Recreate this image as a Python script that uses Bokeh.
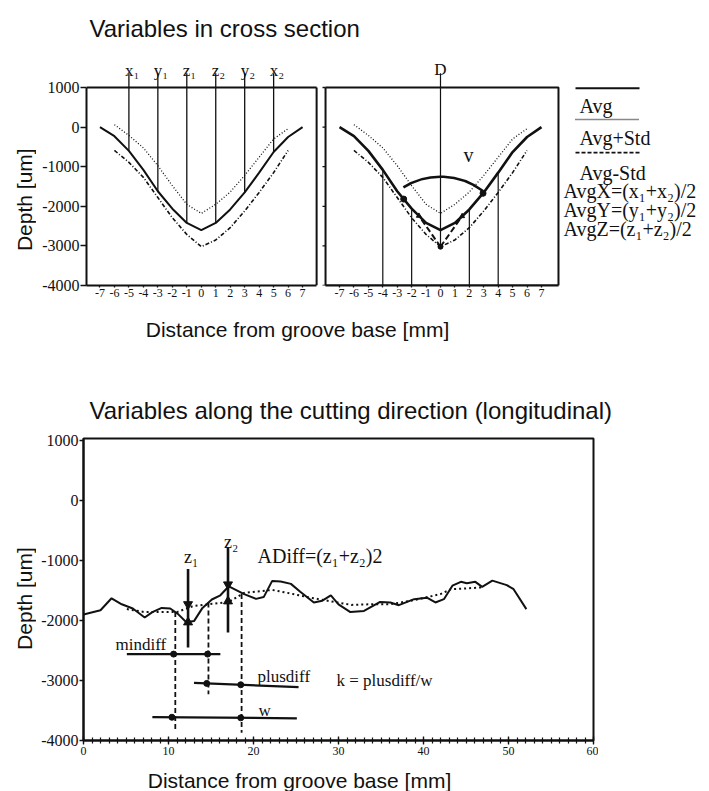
import numpy as np
from bokeh.plotting import figure
from bokeh.models import Range1d, FixedTicker
from bokeh.layouts import column, row
from bokeh.embed import file_html
from bokeh.resources import INLINE
from bokeh.core.properties import value

SERIF = "Liberation Serif"
SANS = "Liberation Sans"
INK = "#111111"

# ---------------- data: cross section (top panels) ----------------
cs_x = [-7, -6, -5, -4, -3, -2, -1, 0, 1, 2, 3, 4, 5, 6, 7]
cs_avg = [0, -230, -600, -1080, -1620, -2060, -2420, -2600, -2420, -2080, -1650, -1150, -630, -250, 0]
cs_x_std = [-6, -5, -4, -3, -2, -1, 0, 1, 2, 3, 4, 5, 6]
cs_avg_plus = [60, -210, -525, -975, -1480, -1950, -2180, -1950, -1640, -1220, -760, -300, -40]
cs_avg_minus = [-590, -890, -1270, -1780, -2290, -2710, -3020, -2850, -2540, -2120, -1650, -1150, -590]
cs_xticks = [-7, -6, -5, -4, -3, -2, -1, 0, 1, 2, 3, 4, 5, 6, 7]
depth_ticks = [-4000, -3000, -2000, -1000, 0, 1000]

# variables marked in the left panel
var_pos = [-5, -3, -1, 1, 3, 5]
var_names = ["x\u2081", "y\u2081", "z\u2081", "z\u2082", "y\u2082", "x\u2082"]
# variables marked in the right panel
v_lines = [-4, -2, 2, 4]
tangent_x = [-1.5, 1.5]
arc_end_x = [-2.55, 2.95]

# ---------------- data: longitudinal profile (bottom panel) ----------------
lg_x = [0, 2.0, 3.3, 4.5, 5.8, 7.2, 8.1, 9.2, 10.2, 11.1, 12.1, 13.0, 14.0, 15.1, 16.1, 17.1, 18.9, 20.3,
        21.2, 22.2, 23.2, 24.4, 25.5, 27.1, 28.1, 29.1, 30.0, 31.4, 33.0, 34.9, 36.1, 37.1, 38.9, 40.4,
        41.4, 42.4, 43.4, 44.4, 45.1, 46.1, 46.9, 48.1, 49.8, 50.6, 52.1]
lg_y = [-1900, -1830, -1630, -1730, -1800, -1950, -1860, -1790, -1800, -1890, -2030, -2010, -1790, -1650,
        -1580, -1430, -1560, -1640, -1610, -1340, -1350, -1390, -1520, -1700, -1670, -1580, -1730, -1860,
        -1840, -1690, -1700, -1745, -1645, -1620, -1700, -1645, -1420, -1355, -1378, -1356, -1440, -1335,
        -1410, -1478, -1810]
sm_x = [5.1, 7.2, 11.0, 12.9, 14.7, 17.1, 18.9, 22.2, 24.0, 26.7, 29.5, 31.5, 33.8, 36.1, 38.9, 42.0, 43.2, 46.8]
sm_y = [-1810, -1860, -1860, -1760, -1730, -1690, -1540, -1490, -1540, -1620, -1690, -1740, -1730, -1730,
        -1660, -1560, -1480, -1450]
lg_xticks = [0, 10, 20, 30, 40, 50, 60]
lg_minor = list(range(0, 61))

z_x = [12.3, 17.0]
z_top = [-1140, -780]
z_bot = [-2450, -2200]
z_mark_hi = [-1730, -1400]
z_mark_lo = [-2030, -1680]
drop_x = [10.8, 14.7, 18.6]
drop_top = [-1860, -1700, -1560]
drop_bot = [-3830, -3230, -3870]
bar_names = ["mindiff", "plusdiff", "w"]
bar_x0 = [5.1, 13.0, 8.1]
bar_x1 = [16.1, 25.3, 25.1]
bar_y0 = [-2560, -3040, -3610]
bar_y1 = [-2560, -3110, -3630]
bar_marks = [[10.6, 14.6], [14.5, 18.5], [10.4, 18.5]]


def txt(f, x, y, s, size, font=SERIF, align="left", baseline="alphabetic", angle=0.0, x_offset=0):
    f.text(x=[x], y=[y], text=[s], text_font=value(font), text_font_size=value(f"{size}px"),
           text_align=align, text_baseline=baseline, angle=angle, text_color=INK, x_offset=x_offset)


def blank(w, h):
    f = figure(width=w, height=h, x_range=Range1d(0, w), y_range=Range1d(h, 0),
               output_backend="svg", toolbar_location=None, x_axis_location=None, y_axis_location=None,
               min_border_left=0, min_border_right=0, min_border_top=0, min_border_bottom=0)
    f.outline_line_color = None
    f.grid.visible = False
    f.background_fill_color = "white"
    f.border_fill_color = "white"
    return f


def tick_text(ticks):
    return {t: str(t) for t in ticks}


def style_x(p, xticks, xfont):
    p.outline_line_color = None
    p.grid.visible = False
    xa = p.xaxis[0]
    xa.ticker = FixedTicker(ticks=xticks)
    xa.major_label_overrides = tick_text(xticks)
    xa.axis_line_width = 2
    xa.axis_line_color = INK
    xa.major_tick_line_color = INK
    xa.major_tick_line_width = 1.3
    xa.major_label_text_font = SERIF
    xa.major_label_text_color = INK
    xa.major_label_text_font_size = xfont
    xa.major_tick_in = 0
    xa.major_tick_out = 2
    xa.major_label_standoff = 1
    return xa


def style_y(p, yfont, tick_out):
    ya = p.yaxis[0]
    ya.ticker = FixedTicker(ticks=depth_ticks)
    ya.major_label_overrides = tick_text(depth_ticks)
    ya.axis_line_width = 2
    ya.axis_line_color = INK
    ya.major_tick_line_color = INK
    ya.major_tick_line_width = 1.3
    ya.major_label_text_font = SERIF
    ya.major_label_text_color = INK
    ya.major_label_text_font_size = yfont
    ya.major_tick_in = 0
    ya.major_tick_out = tick_out
    ya.major_label_standoff = 1
    return ya


Y_LO, Y_HI = -4000, 1000
LABEL_TOP = 1360

# ---------------- header ----------------
head = blank(709, 45)
txt(head, 89, 28, "Variables in cross section", 24, SANS)

# ---------------- left y label (top) ----------------
labA = blank(36, 263)
txt(labA, 24, 167, "Depth [um]", 21, SANS, align="center", baseline="middle", angle=np.pi / 2)

# ---------------- top-left panel ----------------
A_L, A_R = -7.93, 7.97
pA = figure(width=282, height=263, x_range=Range1d(-7.93, 8.10), y_range=Range1d(-4000, 1934),
            output_backend="svg", toolbar_location=None,
            min_border_left=50, min_border_right=0, min_border_top=5, min_border_bottom=23)
xa = style_x(pA, cs_xticks, "12px")
ya = style_y(pA, "16px", 6)
xa.bounds = (A_L, A_R)
ya.bounds = (Y_LO, Y_HI)
pA.line([A_L, A_R], [Y_HI, Y_HI], line_color=INK, line_width=2)
pA.line([A_R, A_R], [Y_LO, Y_HI], line_color=INK, line_width=2)
pA.line(cs_x_std, cs_avg_plus, line_color=INK, line_width=1.3, line_dash="1 2")
pA.line(cs_x_std, cs_avg_minus, line_color=INK, line_width=1.6, line_dash="4 2 1 2")
pA.line(cs_x, cs_avg, line_color=INK, line_width=2)
var_bottom = list(np.interp(var_pos, cs_x, cs_avg))
pA.segment(x0=var_pos, y0=[LABEL_TOP] * len(var_pos), x1=var_pos, y1=var_bottom, line_color=INK, line_width=1.3)
pA.text(x=var_pos, y=[1420] * len(var_pos), text=var_names, text_font=value(SERIF),
        text_font_size=value("17px"), text_align="left", text_baseline="alphabetic",
        x_offset=-4, text_color=INK)

# ---------------- top-right panel (no tick labels on its y axis) ----------------
B_L, B_R = -7.97, 8.18
B_TICK_L = -8.18
pB = figure(width=242, height=263, x_range=Range1d(-8.25, 8.32), y_range=Range1d(-4000, 1934),
            output_backend="svg", toolbar_location=None, y_axis_location=None,
            min_border_left=3, min_border_right=0, min_border_top=5, min_border_bottom=23)
xb = style_x(pB, cs_xticks, "12px")
xb.bounds = (B_L, B_R)
pB.line([B_L, B_R, B_R, B_L, B_L], [Y_HI, Y_HI, Y_LO, Y_LO, Y_HI], line_color=INK, line_width=2)
pB.segment(x0=[B_TICK_L] * len(depth_ticks), y0=depth_ticks, x1=[B_L] * len(depth_ticks), y1=depth_ticks,
           line_color=INK, line_width=1.3)
pB.line(cs_x_std, cs_avg_plus, line_color=INK, line_width=1.3, line_dash="1 2")
pB.line(cs_x_std, cs_avg_minus, line_color=INK, line_width=1.6, line_dash="4 2 1 2")
pB.line(cs_x, cs_avg, line_color=INK, line_width=2.6)
apex_y = min(cs_avg_minus)
apex_x = cs_x_std[cs_avg_minus.index(apex_y)]
vl_top = list(np.interp(v_lines, cs_x, cs_avg))
pB.segment(x0=v_lines, y0=[Y_LO] * len(v_lines), x1=v_lines, y1=vl_top, line_color=INK, line_width=1.2)
pB.segment(x0=[apex_x], y0=[LABEL_TOP], x1=[apex_x], y1=[apex_y], line_color=INK, line_width=1.2)
tan_y = list(np.interp(tangent_x, cs_x, cs_avg))
pB.segment(x0=[apex_x] * 2, y0=[apex_y] * 2, x1=tangent_x, y1=tan_y, line_color=INK, line_width=2,
           line_dash="6 3")
pB.arc(x=[apex_x], y=[apex_y], radius=70, radius_units="screen", start_angle=np.radians(53),
       end_angle=np.radians(122), direction="anticlock", line_color=INK, line_width=2.5)
arc_y = list(np.interp(arc_end_x, cs_x, cs_avg))
pB.scatter(arc_end_x, arc_y, size=6, color=INK)
pB.scatter([apex_x], [apex_y], size=5, color=INK)
pB.scatter(tangent_x, tan_y, size=5, color=INK, marker="triangle")
txt(pB, apex_x, 1447, "D", 17, align="center")
txt(pB, 1.95, -715, "v", 20, align="center", baseline="middle")

# ---------------- legend / formulas ----------------
legC = blank(149, 263)
leg_y = [42.3, 77.3, 114.3]
leg_text_y = [61.7, 98.0, 136.7]
leg_labels = ["Avg", "Avg+Std", "Avg-Std"]
leg_dash = ["solid", "1 1", "4 2"]
leg_w = [2, 1.6, 1.6]
for yy, ty, lab, d, lw in zip(leg_y, leg_text_y, leg_labels, leg_dash, leg_w):
    legC.line([15, 79], [yy, yy], line_color=INK, line_width=lw, line_dash=d)
    txt(legC, 19, ty, lab, 20)
formulas = ["AvgX=(x\u2081+x\u2082)/2", "AvgY=(y\u2081+y\u2082)/2", "AvgZ=(z\u2081+z\u2082)/2"]
for fy, ftxt in zip([157, 178.5, 200], formulas):
    txt(legC, 3, fy, ftxt, 20)

# ---------------- middle strip (x label + second title) ----------------
mid = blank(709, 120)
txt(mid, 297, 21, "Distance from groove base [mm]", 21, SANS, align="center")
txt(mid, 89, 102, "Variables along the cutting direction (longitudinal)", 24, SANS)

# ---------------- bottom y label ----------------
labD = blank(36, 334)
txt(labD, 24, 177, "Depth [um]", 21, SANS, align="center", baseline="middle", angle=np.pi / 2)

# ---------------- bottom panel ----------------
pD = figure(width=562, height=334, x_range=Range1d(0, 60), y_range=Range1d(-4000, 1033),
            output_backend="svg", toolbar_location=None,
            min_border_left=47, min_border_right=5, min_border_top=10, min_border_bottom=22)
xd = style_x(pD, lg_xticks, "12px")
yd = style_y(pD, "16px", 4)
pD.outline_line_color = INK
pD.outline_line_width = 2
xd.ticker = FixedTicker(ticks=lg_xticks, minor_ticks=lg_minor)
xd.major_tick_in = 4
xd.major_tick_out = 4
xd.minor_tick_in = 3
xd.minor_tick_out = 3
xd.minor_tick_line_color = INK
xd.minor_tick_line_width = 1.2
xd.major_label_standoff = 2
pD.line(sm_x, sm_y, line_color=INK, line_width=2, line_dash="2 3")
pD.line(lg_x, lg_y, line_color=INK, line_width=2)
pD.segment(x0=drop_x, y0=drop_top, x1=drop_x, y1=drop_bot, line_color=INK, line_width=1.8, line_dash="5 3")
pD.segment(x0=z_x, y0=z_top, x1=z_x, y1=z_bot, line_color=INK, line_width=2.6)
pD.scatter(z_x, z_mark_hi, marker="inverted_triangle", size=9, color=INK)
pD.scatter(z_x, z_mark_lo, marker="triangle", size=9, color=INK)
pD.segment(x0=bar_x0, y0=bar_y0, x1=bar_x1, y1=bar_y1, line_color=INK, line_width=2.2)
for x0, x1, y0, y1, mk in zip(bar_x0, bar_x1, bar_y0, bar_y1, bar_marks):
    my = list(np.interp(mk, [x0, x1], [y0, y1]))
    pD.scatter(mk, my, size=6, color=INK)
txt(pD, z_x[0], -950, "z\u2081", 18, x_offset=-4)
txt(pD, z_x[1], -700, "z\u2082", 18, x_offset=-4)
txt(pD, 20.47, -917, "ADiff=(z\u2081+z\u2082)2", 20)
txt(pD, 3.76, -2406, bar_names[0], 17)
txt(pD, 20.47, -2940, bar_names[1], 17)
txt(pD, 20.6, -3506, bar_names[2], 17)
txt(pD, 29.76, -3006, "k = plusdiff/w", 17)

# ---------------- footer ----------------
foot = blank(709, 29)
txt(foot, 299, 18, "Distance from groove base [mm]", 21, SANS, align="center")

layout = column(
    head,
    row(labA, pA, pB, legC, spacing=0),
    mid,
    row(labD, pD, spacing=0),
    foot,
    spacing=0,
)

with open("out.html", "w") as fh:
    fh.write(file_html(layout, INLINE))
